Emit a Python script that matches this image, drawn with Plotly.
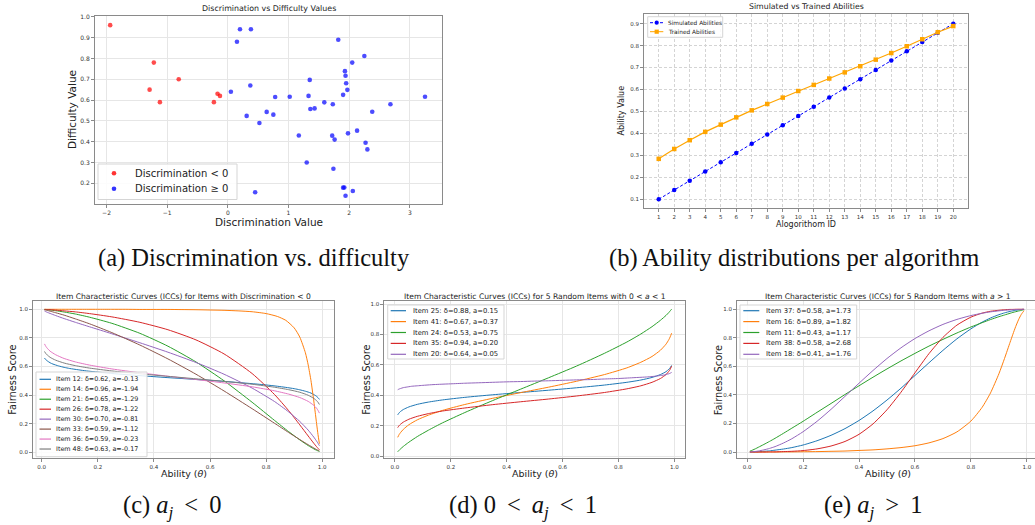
import plotly.graph_objects as go

W, H = 1035, 525
def px(x): return x / W
def py(y): return 1 - y / H

# ---------------- (a) discrimination vs difficulty ----------------
disc_neg = [-1.94, -1.22, -1.29, -1.12, -0.81, -0.23, -0.17, -0.13]
diff_neg = [0.96, 0.78, 0.65, 0.59, 0.70, 0.59, 0.63, 0.62]
disc_pos = [0.20, 0.38, 0.15, 0.05, 0.37, 0.31, 0.64, 0.52, 0.45, 0.75, 0.78, 1.02, 1.17, 1.30,
            1.35, 1.33, 1.36, 1.43, 1.59, 1.73, 1.72, 1.76, 1.74, 1.82, 1.90, 1.93, 1.94, 1.95,
            1.97, 1.90, 1.92, 1.94, 1.98, 2.05, 2.06, 2.13, 2.25, 2.27, 2.30, 2.38, 2.68, 3.25]
diff_pos = [0.94, 0.94, 0.88, 0.64, 0.67, 0.524, 0.543, 0.49, 0.157, 0.53, 0.615, 0.616, 0.43, 0.30,
            0.697, 0.62, 0.557, 0.56, 0.589, 0.58, 0.429, 0.41, 0.27, 0.89, 0.625, 0.739, 0.717, 0.681,
            0.649, 0.179, 0.18, 0.14, 0.44, 0.78, 0.163, 0.453, 0.812, 0.395, 0.363, 0.544, 0.58, 0.616]

# ---------------- (b) simulated vs trained abilities ----------------
alg_ids = [1, 2, 3, 4, 5, 6, 7, 8, 9, 10, 11, 12, 13, 14, 15, 16, 17, 18, 19, 20]
simulated = [0.100, 0.142, 0.184, 0.226, 0.268, 0.311, 0.353, 0.395, 0.437, 0.479,
             0.521, 0.563, 0.605, 0.647, 0.689, 0.732, 0.774, 0.816, 0.858, 0.900]
trained = [0.284, 0.329, 0.369, 0.407, 0.440, 0.473, 0.505, 0.534, 0.563, 0.593,
           0.621, 0.650, 0.678, 0.706, 0.736, 0.766, 0.797, 0.829, 0.861, 0.889]

# ---------------- (c)-(e) item characteristic curves ----------------
THETA = [0.01, 0.015, 0.02, 0.03, 0.04, 0.06, 0.08, 0.1, 0.13, 0.16, 0.2, 0.25, 0.3, 0.35, 0.4, 0.45,
         0.5, 0.55, 0.6, 0.65, 0.7, 0.75, 0.8, 0.84, 0.87, 0.9, 0.92, 0.94, 0.95, 0.96, 0.97, 0.975,
         0.98, 0.985, 0.99]
THETA_S = [0.01, 0.015, 0.02, 0.03, 0.05, 0.08, 0.12, 0.17, 0.25, 0.35, 0.45, 0.55, 0.65, 0.75,
           0.83, 0.88, 0.92, 0.95, 0.97, 0.98, 0.985, 0.99]

icc_12 = [659, 647, 639, 626, 617, 604, 594, 586, 577, 569, 561, 551, 543, 536, 529, 522, 516, 509,
          503, 496, 488, 480, 471, 462, 454, 445, 437, 427, 421, 414, 404, 398, 391, 382, 370]
icc_14 = [1000, 1000, 1000, 1000, 1000, 1000, 1000, 1000, 1000, 1000, 1000, 1000, 1000, 999, 999, 999,
          998, 997, 995, 993, 989, 983, 970, 950, 923, 870, 806, 696, 611, 500, 359, 280, 200, 124, 60]
icc_21 = [999, 998, 997, 995, 990, 981, 967, 945, 902, 832, 742, 632, 500, 350, 223, 145, 87, 47, 24, 14, 10, 6]
icc_26 = [999, 999, 998, 997, 994, 989, 982, 970, 947, 909, 857, 786, 688, 551, 404, 292, 192, 114, 63, 39, 28, 17]
icc_30 = [988, 983, 979, 971, 956, 935, 909, 878, 829, 766, 700, 628, 546, 449, 355, 283, 216, 155, 106, 78, 63, 46]
icc_33 = [996, 994, 992, 987, 976, 959, 933, 899, 837, 750, 653, 546, 429, 305, 203, 139, 89, 53, 30, 19, 14, 9]
icc_36 = [758, 740, 727, 707, 682, 656, 632, 610, 583, 556, 532, 509, 485, 458, 430, 407, 383, 356, 328, 308, 293, 274]
icc_48 = [705, 690, 680, 664, 644, 624, 606, 589, 569, 549, 531, 514, 496, 476, 455, 438, 420, 399, 377, 361, 350, 334]
icc_25 = [271, 284, 293, 306, 323, 340, 355, 369, 386, 403, 418, 433, 449, 467, 485, 500, 517, 536, 555, 571, 581, 596]
icc_41 = [123, 141, 154, 175, 206, 238, 269, 300, 339, 380, 417, 453, 492, 536, 580, 617, 655, 696, 736, 765, 784, 808]
icc_24 = [28, 38, 47, 63, 91, 128, 170, 218, 286, 365, 440, 515, 592, 676, 750, 803, 851, 893, 925, 944, 955, 966]
icc_35 = [187, 200, 209, 223, 242, 261, 279, 296, 316, 338, 357, 375, 395, 418, 442, 462, 485, 510, 536, 557, 571, 591]
icc_20 = [436, 441, 444, 450, 453, 459, 462, 465, 469, 472, 475, 479, 482, 485, 488, 490, 493, 495,
          498, 501, 503, 507, 510, 514, 517, 520, 523, 527, 530, 532, 536, 539, 541, 545, 550]
icc_37 = [0, 0, 1, 1, 2, 5, 8, 13, 21, 31, 49, 79, 117, 164, 221, 288, 364, 447, 536, 625, 712, 793,
          863, 910, 939, 962, 975, 985, 989, 993, 996, 997, 998, 999, 999]
icc_16 = [0, 0, 0, 0, 0, 0, 0, 0, 1, 1, 2, 3, 5, 7, 11, 15, 22, 31, 44, 64, 94, 141, 217, 313, 414,
          548, 655, 769, 825, 879, 926, 946, 964, 978, 990]
icc_11 = [6, 10, 14, 23, 33, 53, 74, 96, 131, 167, 215, 278, 340, 403, 464, 524, 582, 638, 691, 742,
          789, 834, 876, 906, 928, 948, 960, 972, 978, 983, 988, 990, 992, 995, 997]
icc_38 = [0, 0, 0, 0, 0, 0, 1, 1, 3, 5, 10, 22, 42, 74, 124, 197, 296, 419, 555, 689, 803, 889, 945,
          973, 986, 993, 997, 999, 999, 1000, 1000, 1000, 1000, 1000, 1000]
icc_18 = [1, 1, 2, 4, 7, 15, 25, 38, 63, 93, 142, 215, 299, 390, 482, 571, 655, 730, 795, 849, 894,
          929, 956, 972, 982, 989, 993, 996, 997, 998, 999, 999, 999, 1000, 1000]

neg_labels = ["Item 12: δ=0.62, a=-0.13", "Item 14: δ=0.96, a=-1.94", "Item 21: δ=0.65, a=-1.29",
              "Item 26: δ=0.78, a=-1.22", "Item 30: δ=0.70, a=-0.81", "Item 33: δ=0.59, a=-1.12",
              "Item 36: δ=0.59, a=-0.23", "Item 48: δ=0.63, a=-0.17"]
neg_curves = [(THETA, icc_12), (THETA, icc_14), (THETA_S, icc_21), (THETA_S, icc_26),
              (THETA_S, icc_30), (THETA_S, icc_33), (THETA_S, icc_36), (THETA_S, icc_48)]
mid_labels = ["Item 25: δ=0.88, a=0.15", "Item 41: δ=0.67, a=0.37", "Item 24: δ=0.53, a=0.75",
              "Item 35: δ=0.94, a=0.20", "Item 20: δ=0.64, a=0.05"]
mid_curves = [(THETA_S, icc_25), (THETA_S, icc_41), (THETA_S, icc_24), (THETA_S, icc_35), (THETA, icc_20)]
hi_labels = ["Item 37: δ=0.58, a=1.73", "Item 16: δ=0.89, a=1.82", "Item 11: δ=0.43, a=1.17",
             "Item 38: δ=0.58, a=2.68", "Item 18: δ=0.41, a=1.76"]
hi_curves = [(THETA, icc_37), (THETA, icc_16), (THETA, icc_11), (THETA, icc_38), (THETA, icc_18)]

TAB10 = ["#1f77b4", "#ff7f0e", "#2ca02c", "#d62728", "#9467bd", "#8c564b", "#e377c2", "#7f7f7f"]
FONT = "DejaVu Sans"
SERIF = "Liberation Serif"

fig = go.Figure()

# (a)
fig.add_trace(go.Scatter(x=disc_neg, y=diff_neg, mode="markers", xaxis="x", yaxis="y",
                         marker=dict(color="red", size=4.6, opacity=0.7, line=dict(width=0)),
                         showlegend=False))
fig.add_trace(go.Scatter(x=disc_pos, y=diff_pos, mode="markers", xaxis="x", yaxis="y",
                         marker=dict(color="blue", size=4.6, opacity=0.7, line=dict(width=0)),
                         showlegend=False))
# (b)
fig.add_trace(go.Scatter(x=alg_ids, y=simulated, mode="lines+markers", xaxis="x2", yaxis="y2",
                         line=dict(color="blue", dash="3px,2px", width=1),
                         marker=dict(symbol="circle", size=4.5, color="blue"), showlegend=False))
fig.add_trace(go.Scatter(x=alg_ids, y=trained, mode="lines+markers", xaxis="x2", yaxis="y2",
                         line=dict(color="orange", width=1.2),
                         marker=dict(symbol="square", size=4.5, color="orange"), showlegend=False))
# (c)-(e)
for curves, ax in [(neg_curves, "3"), (mid_curves, "4"), (hi_curves, "5")]:
    for i, (xs, ys) in enumerate(curves):
        fig.add_trace(go.Scatter(x=xs, y=[v / 1000 for v in ys], mode="lines",
                                 xaxis="x" + ax, yaxis="y" + ax,
                                 line=dict(color=TAB10[i], width=1, shape="spline", smoothing=0.6),
                                 showlegend=False))

def axis(domain, rng, anchor, tickvals, fmt, fsize, dash="solid", gridcolor="#e6e6e6"):
    return dict(domain=domain, range=rng, anchor=anchor, tickvals=tickvals, tickformat=fmt,
                showline=True, mirror=True, linecolor="#8a8a8a", linewidth=1,
                ticks="outside", ticklen=3, tickwidth=0.8, tickcolor="#8a8a8a",
                tickfont=dict(family=FONT, size=fsize, color="#333"),
                showgrid=True, gridcolor=gridcolor, gridwidth=0.7, griddash=dash,
                zeroline=False, fixedrange=True, automargin=False)

ybot, ytop = py(458.3), py(301)
fig.update_layout(
    width=W, height=H, margin=dict(l=0, r=0, t=0, b=0, autoexpand=False),
    paper_bgcolor="white", plot_bgcolor="white", showlegend=False,
    xaxis=axis([px(95), px(442)], [-2.19, 3.53], "y", [-2, -1, 0, 1, 2, 3], "d", 6),
    yaxis=axis([py(204), py(16)], [0.1005, 1.004], "x", [0.2, 0.3, 0.4, 0.5, 0.6, 0.7, 0.8, 0.9, 1.0], ".1f", 6),
    xaxis2=axis([px(644), px(968)], [0.05, 20.95], "y2", alg_ids, "d", 5.5, "3px,2px", "#d4d4d4"),
    yaxis2=axis([py(208), py(14)], [0.060, 0.944], "x2", [0.1, 0.2, 0.3, 0.4, 0.5, 0.6, 0.7, 0.8, 0.9], ".1f", 5.5, "3px,2px", "#d4d4d4"),
    xaxis3=axis([px(33), px(334)], [-0.031, 1.042], "y3", [0, 0.2, 0.4, 0.6, 0.8, 1.0], ".1f", 5.5),
    yaxis3=axis([ybot, ytop], [-0.042, 1.058], "x3", [0, 0.2, 0.4, 0.6, 0.8, 1.0], ".1f", 5.5),
    xaxis4=axis([px(384.3), px(685)], [-0.038, 1.038], "y4", [0, 0.2, 0.4, 0.6, 0.8, 1.0], ".1f", 5.5),
    yaxis4=axis([ybot, ytop], [-0.015, 1.02], "x4", [0, 0.2, 0.4, 0.6, 0.8, 1.0], ".1f", 5.5),
    xaxis5=axis([px(737), 1.0], [-0.036, 1.029], "y5", [0, 0.2, 0.4, 0.6, 0.8, 1.0], ".1f", 5.5),
    yaxis5=axis([ybot, ytop], [-0.044, 1.058], "x5", [0, 0.2, 0.4, 0.6, 0.8, 1.0], ".1f", 5.5),
)

ann = []
shapes = []
def text(x, y, s, size, angle=0, family=FONT, color="#222", xanchor="center"):
    ann.append(dict(x=px(x), y=py(y), xref="paper", yref="paper", text=s, showarrow=False,
                    xanchor=xanchor, yanchor="middle", textangle=angle,
                    font=dict(family=family, size=size, color=color)))

# titles and axis labels
text(268.5, 9, "Discrimination vs Difficulty Values", 7.9)
text(268.5, 222, "Discrimination Value", 10.5)
text(72, 110, "Difficulty Value", 10.5, angle=-90)
text(806, 7, "Simulated vs Trained Abilities", 7.8)
text(806, 224, "Alogorithom ID", 8)
text(621.5, 111, "Ability Value", 8, angle=-90)
text(183.5, 296.5, "Item Characteristic Curves (ICCs) for Items with Discrimination &lt; 0", 7.6)
text(534.6, 296.5, "Item Characteristic Curves (ICCs) for 5 Random Items with 0 &lt; <i>a</i> &lt; 1", 7.6)
text(888, 296.5, "Item Characteristic Curves (ICCs) for 5 Random Items with <i>a</i> &gt; 1", 7.6)
for xc in [183.5, 534.6, 888]:
    text(xc, 474, "Ability (<i>θ</i>)", 9.5)
for xc in [11.7, 365.7, 718.3]:
    text(xc, 380, "Fairness Score", 9.8, angle=-90)

# captions
TS = "\u2009"
text(254, 258, "(a) Discrimination vs. difficulty", 24.5, family=SERIF, color="#111")
text(794, 258, "(b) Ability distributions per algorithm", 24.5, family=SERIF, color="#111")
text(172, 506, "(c) <i>a<sub>j</sub></i> " + TS + "&lt;" + TS + " 0", 24.5, family=SERIF, color="#111")
text(523, 506, "(d) 0 " + TS + "&lt;" + TS + " <i>a<sub>j</sub></i> " + TS + "&lt;" + TS + " 1", 24.5,
     family=SERIF, color="#111")
text(873, 506, "(e) <i>a<sub>j</sub></i> " + TS + "&gt;" + TS + " 1", 24.5, family=SERIF, color="#111")

# legends (drawn as boxes with swatches)
def box(x0, y0, x1, y1):
    shapes.append(dict(type="rect", xref="paper", yref="paper", x0=px(x0), x1=px(x1),
                       y0=py(y1), y1=py(y0), fillcolor="rgba(255,255,255,0.85)",
                       line=dict(color="#d5d5d5", width=1), layer="above"))

def seg(x0, x1, y, color, width=1.5, dash="solid"):
    shapes.append(dict(type="line", xref="paper", yref="paper", x0=px(x0), x1=px(x1),
                       y0=py(y), y1=py(y), line=dict(color=color, width=width, dash=dash), layer="above"))

def dot(cx, cy, r, color, kind="circle", opacity=1.0):
    shapes.append(dict(type="circle" if kind == "circle" else "rect", xref="paper", yref="paper",
                       x0=px(cx - r), x1=px(cx + r), y0=py(cy + r), y1=py(cy - r),
                       fillcolor=color, opacity=opacity, line=dict(width=0), layer="above"))

# (a)
box(98, 164, 237, 199.5)
for i, (lab, col) in enumerate([("Discrimination &lt; 0", "red"), ("Discrimination ≥ 0", "blue")]):
    y = 173.3 + i * 15.4
    dot(114, y, 2.3, col, opacity=0.8)
    text(133, y, lab, 10, xanchor="left")
# (b)
box(647.7, 16.7, 722.7, 37.3)
for i, (lab, col, dash, kind) in enumerate([("Simulated Abilities", "blue", "3px,2px", "circle"),
                                            ("Trained Abilities", "orange", "solid", "rect")]):
    y = 22.7 + i * 9
    seg(650, 663.3, y, col, 1, dash)
    dot(656.7, y, 2.1, col, kind)
    text(666, y, lab, 5.8, xanchor="left")
# (c)
box(36, 372, 147, 456.7)
for i, lab in enumerate(neg_labels):
    y = 379.3 + i * 9.96
    seg(39.5, 51, y, TAB10[i], 1.2)
    text(54, y, lab, 6.4, xanchor="left")
# (d)
box(387.7, 305, 504, 359)
for i, lab in enumerate(mid_labels):
    y = 310.7 + i * 10.9
    seg(390.7, 406, y, TAB10[i], 1.2)
    text(410.5, y, lab, 6.8, xanchor="left")
# (e)
box(740, 305, 856.7, 359)
for i, lab in enumerate(hi_labels):
    y = 310.7 + i * 10.9
    seg(743.3, 759.3, y, TAB10[i], 1.2)
    text(763.5, y, lab, 6.8, xanchor="left")

fig.update_layout(annotations=ann, shapes=shapes)
fig.write_html("out.html", config={"displayModeBar": False},
               post_script="document.body.style.margin='0';document.body.style.overflow='hidden';")
